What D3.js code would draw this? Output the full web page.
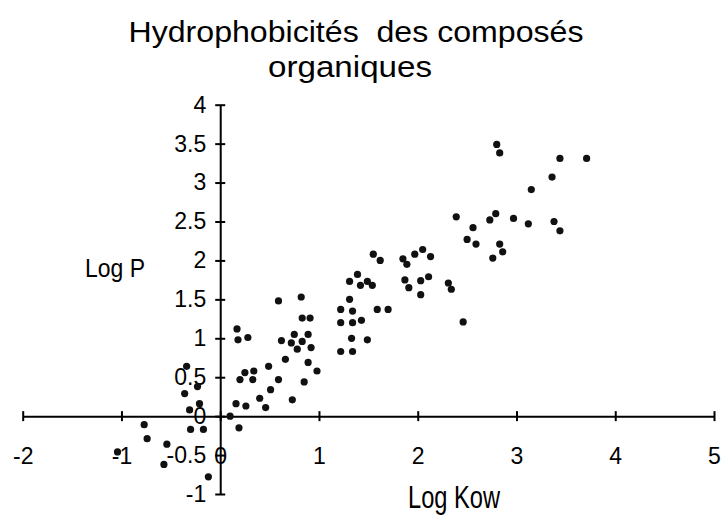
<!DOCTYPE html>
<html>
  <head>
    <meta charset="utf-8" />
    <style>
      body { margin: 0; background: #fff; }
      text { font-family: "Liberation Sans", Arial, sans-serif; fill: #000; }
    </style>
  </head>
  <body>

<svg id="graph"></svg>

<script src="https://d3js.org/d3.v7.min.js"></script>
<script>
  const WIDTH = 724;
  const HEIGHT = 519;

  // valeurs (Log Kow, Log P)
  const LOG_KOW = [
    -1.04, -0.77, -0.74, -0.54, -0.57, -0.34, -0.36, -0.23, -0.21, -0.31, -0.30, -0.17, -0.12,
    0.10, 0.19, 0.16, 0.26, 0.17, 0.18, 0.28, 0.20, 0.25, 0.34, 0.33, 0.40, 0.46, 0.49, 0.51,
    0.59, 0.59, 0.62, 0.66, 0.73, 0.75, 0.72, 0.78, 0.82, 0.83, 0.91, 0.83, 0.89, 0.92, 0.89,
    0.85, 0.98,
    1.22, 1.22, 1.22, 1.31, 1.31, 1.34, 1.34, 1.33, 1.34, 1.39, 1.42, 1.43, 1.49, 1.49, 1.54,
    1.55, 1.62, 1.59, 1.70,
    1.85, 1.89, 1.97, 2.05, 2.13, 1.87, 1.91, 2.03, 2.03, 2.11, 2.31, 2.34, 2.46,
    2.39, 2.56, 2.50, 2.59, 2.73, 2.79, 2.97, 3.12, 2.83, 2.86, 2.76, 2.80, 2.83, 3.15, 3.36,
    3.44, 3.71, 3.38, 3.44
  ];
  const LOG_P = [
    -0.46, -0.11, -0.29, -0.36, -0.62, 0.64, 0.29, 0.38, 0.16, 0.08, -0.17, -0.17, -0.78,
    0.00, -0.15, 0.16, 0.13, 1.12, 0.98, 1.01, 0.47, 0.56, 0.58, 0.47, 0.23, 0.11, 0.64, 0.34,
    1.48, 0.47, 0.97, 0.73, 0.21, 1.05, 0.94, 0.86, 1.53, 1.26, 1.26, 0.96, 1.05, 0.88, 0.69,
    0.44, 0.58,
    1.37, 1.20, 0.83, 1.73, 1.50, 1.35, 1.20, 1.00, 0.83, 1.82, 1.68, 1.23, 1.73, 0.98, 1.68,
    2.08, 2.00, 1.37, 1.37,
    2.02, 1.95, 2.08, 2.14, 2.05, 1.75, 1.65, 1.74, 1.56, 1.79, 1.71, 1.63, 1.21,
    2.56, 2.42, 2.27, 2.21, 2.52, 2.60, 2.54, 2.47, 2.21, 2.11, 2.03, 3.49, 3.38, 2.91, 3.07,
    3.31, 3.31, 2.50, 2.38
  ];

  const X_TICKS = [-2, -1, 0, 1, 2, 3, 4, 5];
  const Y_TICKS = [-1, -0.5, 0, 0.5, 1, 1.5, 2, 2.5, 3, 3.5, 4];
  const TITLE = ['Hydrophobicités  des composés', 'organiques'];

  const points = LOG_KOW.map((k, i) => ({ kow: k, p: LOG_P[i] }));

  const svg = d3.select('#graph')
    .attr('width', WIDTH)
    .attr('height', HEIGHT);

  const x = d3.scaleLinear().domain([-2, 5]).range([22.7, 714]);
  const y = d3.scaleLinear().domain([-1, 4]).range([494, 104.7]);

  // tiret simple comme dans l'original
  const fmt = d => String(d);

  // titre (double espace conservé)
  svg.append('text')
    .attr('x', 356).attr('y', 42)
    .attr('text-anchor', 'middle')
    .attr('font-size', 30)
    .attr('textLength', 455)
    .attr('lengthAdjust', 'spacingAndGlyphs')
    .style('white-space', 'pre')
    .text(TITLE[0]);
  svg.append('text')
    .attr('x', 350).attr('y', 77)
    .attr('text-anchor', 'middle')
    .attr('font-size', 30)
    .attr('textLength', 164)
    .attr('lengthAdjust', 'spacingAndGlyphs')
    .text(TITLE[1]);

  // axe des x, passe par y = 0
  const xAxis = svg.append('g')
    .attr('transform', `translate(0,${y(0)})`)
    .call(d3.axisBottom(x).tickValues(X_TICKS).tickSizeOuter(0).tickFormat(fmt));
  xAxis.select('.domain').attr('stroke', '#000').attr('stroke-width', 2);
  xAxis.selectAll('.tick line').attr('y1', -5).attr('y2', 5).attr('stroke-width', 2);
  xAxis.selectAll('.tick text')
    .attr('y', 48).attr('dy', null)
    .attr('font-size', 23)
    .attr('font-family', '"Liberation Sans", Arial, sans-serif')
    .attr('fill', '#000');

  // axe des y, passe par x = 0
  const yAxis = svg.append('g')
    .attr('transform', `translate(${x(0)},0)`)
    .call(d3.axisLeft(y).tickValues(Y_TICKS).tickSizeOuter(0).tickFormat(fmt));
  yAxis.select('.domain').attr('stroke', '#000').attr('stroke-width', 2);
  yAxis.selectAll('.tick line').attr('x1', -5).attr('x2', 5).attr('stroke-width', 2);
  yAxis.selectAll('.tick text')
    .attr('x', -14)
    .attr('font-size', 23)
    .attr('font-family', '"Liberation Sans", Arial, sans-serif')
    .attr('fill', '#000');

  // titres des axes
  svg.append('text')
    .attr('x', 408).attr('y', 508)
    .attr('font-size', 31)
    .attr('textLength', 92)
    .attr('lengthAdjust', 'spacingAndGlyphs')
    .text('Log Kow');
  svg.append('text')
    .attr('x', 85).attr('y', 277)
    .attr('font-size', 25)
    .attr('textLength', 60)
    .attr('lengthAdjust', 'spacingAndGlyphs')
    .text('Log P');

  // points
  svg.selectAll('circle')
    .data(points)
    .enter()
    .append('circle')
    .attr('cx', d => x(d.kow))
    .attr('cy', d => y(d.p))
    .attr('r', 3.6)
    .attr('fill', '#111');
</script>
  </body>
</html>
